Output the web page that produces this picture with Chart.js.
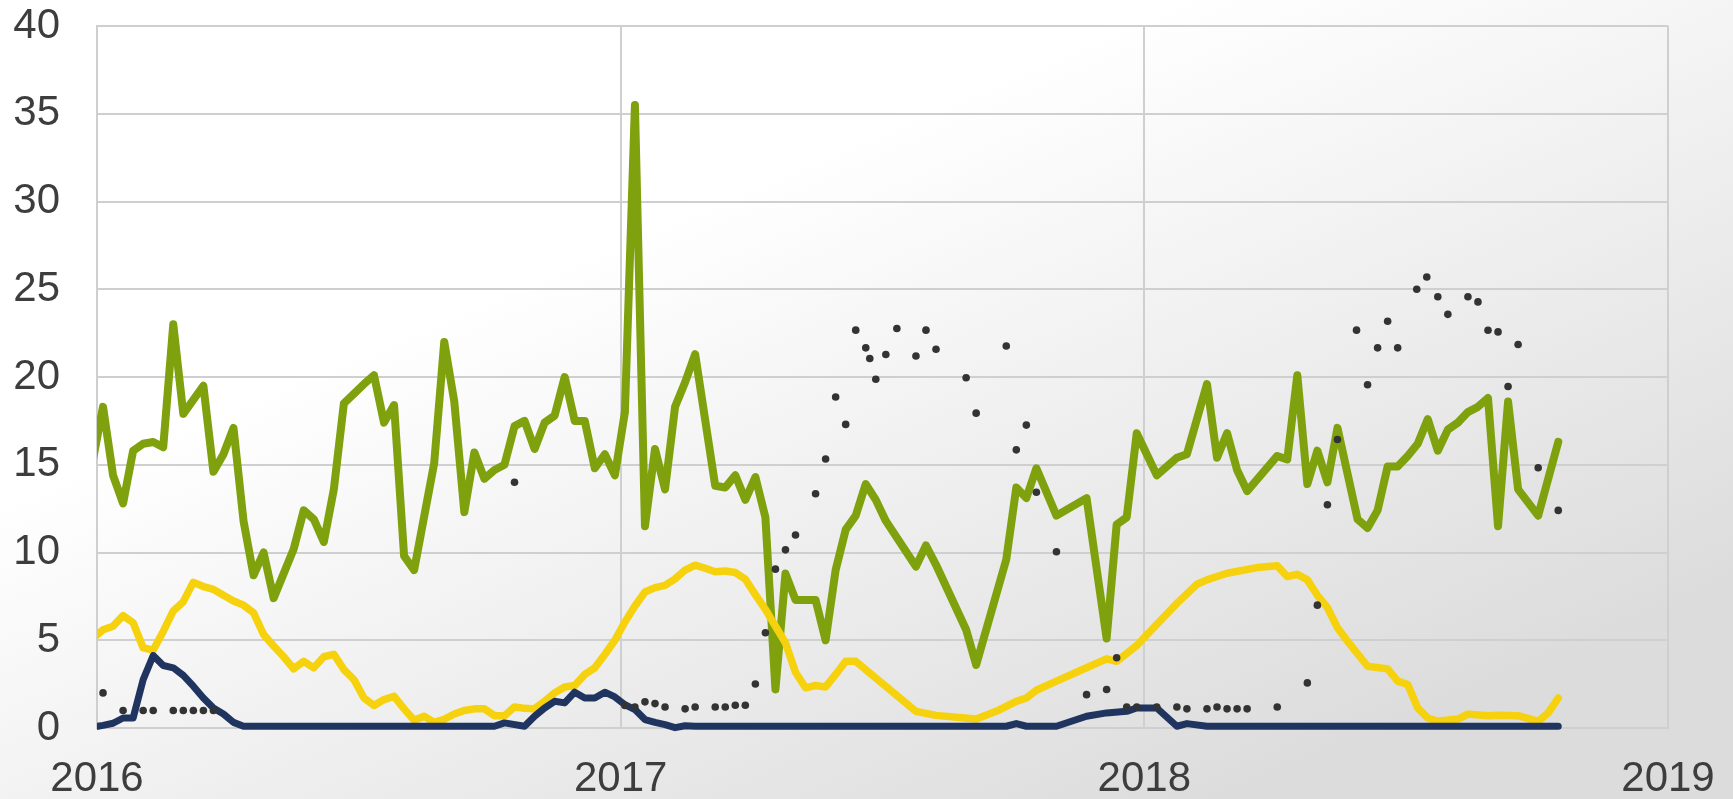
<!DOCTYPE html>
<html>
<head>
<meta charset="utf-8">
<script src="https://cdn.jsdelivr.net/npm/chart.js@4.4.1/dist/chart.umd.min.js"></script>
<style>
  html, body { margin: 0; padding: 0; background: #fff; }
  #chart { display: block; }
</style>
</head>
<body>
<canvas id="chart" width="1733" height="799"></canvas>
<script>
// weekly readings, first value sits at week -0.4 (just left of 1 Jan 2016), null = no visible vertex
var firstWeek = -0.4;

var greenValues = [
  15.3, 18.3, 14.4, 12.8, 15.8, 16.2, 16.3, 16.0, 23.0, 17.9,
  null, 19.5, 14.6, 15.6, 17.1, 11.8, 8.7, 10.0, 7.4, null,
  10.2, 12.4, 11.9, 10.6, 13.6, 18.5, null, 19.6, 20.1, 17.4,
  18.4, 9.8, 9.0, null, 15.1, 22.0, 18.6, 12.3, 15.7, 14.2,
  14.7, 15.0, 17.2, 17.5, 15.9, 17.4, 17.8, 20.0, 17.5, 17.5,
  14.8, 15.6, 14.4, 18.0, 35.5, 11.5, 15.9, 13.6, 18.3, 19.7,
  21.3, null, 13.8, 13.7, 14.4, 13.0, 14.3, 12.0, 2.2, 8.8,
  7.3, null, 7.3, 5.0, 9.0, 11.3, 12.1, 13.9, 13.0, 11.8,
  null, null, 9.2, 10.4, 9.3, null, null, 5.6, 3.6, null,
  null, 9.6, 13.7, 13.1, 14.8, null, 12.1, null, null, 13.1,
  null, 5.1, 11.6, 12.0, 16.8, null, 14.4, null, 15.4, 15.6,
  null, 19.6, 15.4, 16.8, 14.7, 13.5, null, null, 15.5, 15.3,
  20.1, 13.9, 15.8, 14.0, 17.1, null, 11.9, 11.4, 12.4, 14.9,
  14.9, 15.5, 16.2, 17.6, 15.8, 17.0, 17.4, 18.0, 18.3, 18.8,
  11.5, 18.6, 13.6, null, 12.1, null, 16.3
];

var yellowValues = [
  5.1, 5.6, 5.8, 6.4, 6.0, 4.57, 4.44, 5.5, 6.67, 7.2,
  8.3, 8.06, 7.9, 7.56, 7.24, 7.0, 6.57, 5.33, 4.67, 4.06,
  3.37, 3.8, 3.43, 4.06, 4.2, 3.33, 2.76, 1.71, 1.28, 1.62,
  1.8, 1.09, 0.44, 0.67, 0.32, 0.5, 0.8, 1.0, 1.09, 1.09,
  0.7, 0.7, 1.2, 1.12, 1.09, 1.52, 2.0, 2.34, 2.42, 3.05,
  3.43, 4.19, 5.0, 6.04, 6.95, 7.75, 8.0, 8.13, 8.5, 9.0,
  9.28, 9.1, 8.9, 8.95, 8.86, 8.48, 7.6, 6.76, 5.8, 4.86,
  3.18, 2.29, 2.42, 2.34, 3.05, 3.8, 3.8, null, null, null,
  null, null, 0.95, null, 0.72, null, null, null, 0.51, null,
  0.95, null, 1.52, 1.71, 2.15, null, 2.67, null, null, 3.43,
  null, 3.94, 3.8, 4.24, 4.7, null, 5.9, null, 7.1, null,
  8.19, 8.44, 8.63, 8.82, null, null, 9.14, null, 9.24, 8.63,
  8.76, 8.44, 7.56, 6.86, 5.71, 4.95, null, 3.52, null, 3.37,
  2.67, 2.48, 1.14, 0.57, 0.38, null, 0.51, 0.79, null, 0.7,
  0.72, null, 0.7, null, 0.38, 0.86, 1.71
];

var navyValues = [
  0.05, 0.15, 0.27, 0.57, 0.57, 2.76, 4.13, 3.56, 3.43, 3.0,
  2.38, 1.71, 1.14, 0.8, 0.32, 0.1, null, null, null, null,
  null, null, null, null, null, null, null, null, null, null,
  null, null, null, null, null, null, null, null, null, null,
  0.1, 0.29, null, 0.1, 0.67, 1.14, 1.52, 1.43, 2.04, 1.71,
  1.71, 2.04, 1.77, 1.33, 1.05, 0.48, 0.32, 0.19, 0.02, 0.13,
  0.1, null, null, null, null, null, null, null, null, null,
  null, null, null, null, null, null, null, null, null, null,
  null, null, null, null, null, null, null, null, null, null,
  null, 0.1, 0.25, 0.1, null, null, 0.1, null, null, 0.67,
  null, 0.86, null, 0.95, 1.14, null, 1.14, null, 0.1, 0.25,
  null, 0.1, null, null, null, null, null, null, null, null,
  null, null, null, null, null, null, null, null, null, null,
  null, null, null, null, null, null, null, null, null, null,
  null, null, null, null, null, null, 0.1
];

var dotWeeks = [
  0.6, 2.6, 4.6, 5.6, 7.6, 8.6, 9.6, 10.6, 11.6, 41.6,
  52.6, 53.6, 54.6, 55.6, 56.6, 58.6, 59.6, 61.6, 62.6, 63.6,
  64.6, 65.6, 66.6, 67.6, 68.6, 69.6, 71.6, 72.6, 73.6, 74.6,
  75.6, 76.6, 77.0, 77.6, 78.6, 79.7, 81.6, 82.6, 83.6, 86.6,
  87.6, 90.6, 91.6, 92.6, 93.6, 95.6, 98.6, 100.6, 101.6, 102.6,
  103.6, 105.6, 107.6, 108.6, 110.6, 111.6, 112.6, 113.6, 114.6, 117.6,
  120.6, 121.6, 122.6, 123.6, 125.5, 126.6, 127.6, 128.6, 129.6, 131.5,
  132.5, 133.6, 134.6, 136.6, 137.6, 138.6, 139.6, 140.6, 141.6, 143.6,
  145.6
];
var dotValues = [
  2.0, 1.0, 1.0, 1.0, 1.0, 1.0, 1.0, 1.0, 1.0, 14.0,
  1.28, 1.2, 1.49, 1.39, 1.2, 1.09, 1.2, 1.2, 1.2, 1.3,
  1.3, 2.51, 5.43, 9.05, 10.15, 11.0, 13.35, 15.33, 18.86, 17.3,
  22.67, 21.66, 21.05, 19.87, 21.28, 22.76, 21.2, 22.67, 21.58, 19.96,
  17.94, 21.77, 15.85, 17.26, 13.43, 10.04, 1.9, 2.19, 4.0, 1.2,
  1.2, 1.2, 1.2, 1.09, 1.09, 1.2, 1.09, 1.09, 1.09, 1.2,
  2.57, 7.0, 12.72, 16.44, 22.67, 19.56, 21.66, 23.18, 21.66, 25.0,
  25.7, 24.57, 23.57, 24.57, 24.28, 22.66, 22.57, 19.46, 21.85, 14.83,
  12.4
];

var yTicks = [0, 5, 10, 15, 20, 25, 30, 35, 40];
var xYears = [2016, 2017, 2018, 2019];

function weekToYear(w) {
  return 2016 + w * 7 / 365.25;
}
function weeklyPoints(vals) {
  return vals.map(function (v, i) {
    return { x: weekToYear(firstWeek + i), y: v };
  });
}
var dotPoints = dotWeeks.map(function (w, i) {
  return { x: weekToYear(w), y: dotValues[i] };
});

var bgPlugin = {
  id: 'bg',
  beforeDraw: function (chart) {
    var c = chart.ctx;
    var w = chart.width, h = chart.height;
    var g = c.createLinearGradient(700, 200, 1000, 900);
    g.addColorStop(0, '#ffffff');
    g.addColorStop(1, '#dcdcdc');
    c.save();
    c.fillStyle = g;
    c.fillRect(0, 0, w, h);
    c.restore();
  }
};

var gridColor = '#cfcfcf';
var textColor = '#3d3d3d';
var font = { family: "'Liberation Sans', Arial, sans-serif", size: 42 };
var lineClip = { left: 0, right: 6, top: 6, bottom: 6 };

var ctx = document.getElementById('chart').getContext('2d');
var chart = new Chart(ctx, {
  type: 'line',
  data: {
    datasets: [{
      type: 'scatter',
      data: dotPoints,
      pointRadius: 3.8,
      pointBackgroundColor: '#333333',
      pointBorderWidth: 0,
      showLine: false
    }, {
      data: weeklyPoints(navyValues),
      borderColor: '#1f3560',
      borderWidth: 7,
      spanGaps: true,
      clip: lineClip
    }, {
      data: weeklyPoints(yellowValues),
      borderColor: '#f6d10e',
      borderWidth: 7.5,
      spanGaps: true,
      clip: lineClip
    }, {
      data: weeklyPoints(greenValues),
      borderColor: '#7fa10d',
      borderWidth: 8,
      spanGaps: true,
      clip: lineClip
    }]
  },
  options: {
    responsive: false,
    animation: false,
    devicePixelRatio: 1,
    layout: { padding: { top: 26, right: 65, left: 0, bottom: 0 } },
    elements: {
      line: { tension: 0, borderJoinStyle: 'round', borderCapStyle: 'round', fill: false },
      point: { radius: 0 }
    },
    plugins: {
      legend: { display: false },
      tooltip: { enabled: false }
    },
    scales: {
      x: {
        type: 'linear',
        min: xYears[0],
        max: xYears[xYears.length - 1],
        afterBuildTicks: function (s) {
          s.ticks = xYears.map(function (v) { return { value: v }; });
        },
        afterFit: function (s) {
          s.height = 71;
          s.paddingLeft = 0;
          s.paddingRight = 0;
        },
        grid: { color: gridColor, lineWidth: 2, drawTicks: false },
        border: { color: gridColor, width: 2 },
        ticks: {
          color: textColor,
          font: font,
          padding: 26,
          maxRotation: 0,
          autoSkip: false,
          callback: function (v) { return String(v); }
        }
      },
      y: {
        min: 0,
        max: 40,
        afterBuildTicks: function (s) {
          s.ticks = yTicks.map(function (v) { return { value: v }; });
        },
        afterFit: function (s) {
          s.width = 97;
          s.paddingTop = 0;
          s.paddingBottom = 0;
        },
        grid: { color: gridColor, lineWidth: 2, drawTicks: false },
        border: { color: gridColor, width: 2 },
        ticks: {
          color: textColor,
          font: font,
          padding: 37,
          callback: function (v) { return String(v); }
        }
      }
    }
  },
  plugins: [bgPlugin]
});
</script>
</body>
</html>
